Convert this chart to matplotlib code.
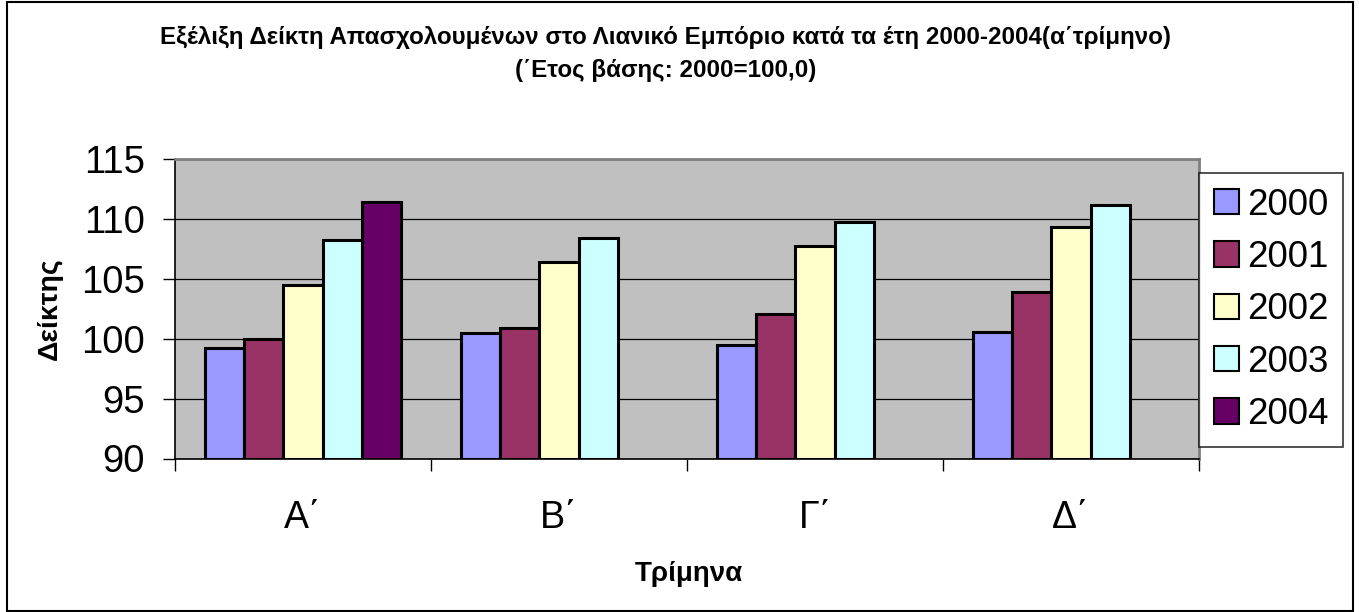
import numpy as np
import matplotlib
matplotlib.use("Agg")
import matplotlib.pyplot as plt
from matplotlib.patches import Rectangle, Patch

plt.rcParams['font.family'] = ['Liberation Sans', 'DejaVu Sans']

quarters = ['Α΄', 'Β΄', 'Γ΄', 'Δ΄']
years = ['2000', '2001', '2002', '2003', '2004']
v2000 = [99.2, 100.5, 99.5, 100.6]
v2001 = [100.0, 100.9, 102.1, 103.9]
v2002 = [104.5, 106.4, 107.7, 109.3]
v2003 = [108.2, 108.4, 109.7, 111.2]
v2004 = [111.4, np.nan, np.nan, np.nan]
series = [v2000, v2001, v2002, v2003, v2004]
colors = ['#9999FF', '#993366', '#FFFFCC', '#CCFFFF', '#660066']

W, H = 1359, 612
fig = plt.figure(figsize=(W / 100, H / 100), dpi=100)
ax = fig.add_axes([175 / W, 1 - 458.5 / H, (1199 - 175) / W, (458.5 - 159) / H])
ax.set_facecolor('#C0C0C0')

x = np.arange(len(quarters))
w = 1 / 6.5
for j, (vals, c) in enumerate(zip(series, colors)):
    ax.bar(x + (j - 2) * w, np.array(vals) - 90, width=w, bottom=90,
           color=c, edgecolor='black', linewidth=2.2, zorder=3)

ax.set_ylim(90, 115)
ax.set_xlim(-0.5, 3.5)
ax.set_yticks(range(90, 116, 5))
ax.yaxis.grid(True, color='black', linewidth=0.9, zorder=1)
ax.tick_params(axis='y', labelsize=27.5, length=8.6, width=1, direction='out', pad=13)
ax.set_xticks(x)
ax.set_xticklabels(quarters)
ax.tick_params(axis='x', which='major', length=0, labelsize=27, pad=30)
ax.set_xticks(np.arange(-0.5, 4, 1), minor=True)
ax.tick_params(axis='x', which='minor', length=8.6, width=1, direction='out')

for s in ['left', 'bottom']:
    ax.spines[s].set_color('black')
    ax.spines[s].set_linewidth(1.2)
for s in ['top', 'right']:
    ax.spines[s].set_color('#808080')
    ax.spines[s].set_linewidth(2)

ax.set_ylabel('Δείκτης', fontsize=20.5, fontweight='bold', va='center')
ax.yaxis.set_label_coords(-0.122, 0.5)
ax.set_xlabel('Τρίμηνα', fontsize=20, fontweight='bold', va='baseline')
ax.xaxis.set_label_coords(0.502, -0.409)

fig.text(666 / W, 1 - 44 / H, 'Εξέλιξη Δείκτη Απασχολουμένων στο Λιανικό Εμπόριο κατά τα έτη 2000-2004(α΄τρίμηνο)',
         ha='center', va='baseline', fontsize=17.4, fontweight='bold')
fig.text(666 / W, 1 - 77 / H, '(΄Ετος βάσης: 2000=100,0)',
         ha='center', va='baseline', fontsize=17.4, fontweight='bold')

handles = [Patch(facecolor=c, edgecolor='black', linewidth=1.5) for c in colors]
leg = fig.legend(handles, years, loc='upper left', bbox_to_anchor=(1199 / W, 1 - 173 / H),
                 fontsize=26.5, frameon=True, fancybox=False, edgecolor='black',
                 handlelength=0.68, handleheight=0.68, handletextpad=0.22,
                 labelspacing=0.47, borderpad=0.4, borderaxespad=0)
leg.get_frame().set_linewidth(1.2)

fig.patches.append(Rectangle((7 / W, 1 / H), 1346 / W, 609 / H, transform=fig.transFigure,
                             fill=False, edgecolor='black', linewidth=1.5))

fig.savefig('out.png', dpi=100)
